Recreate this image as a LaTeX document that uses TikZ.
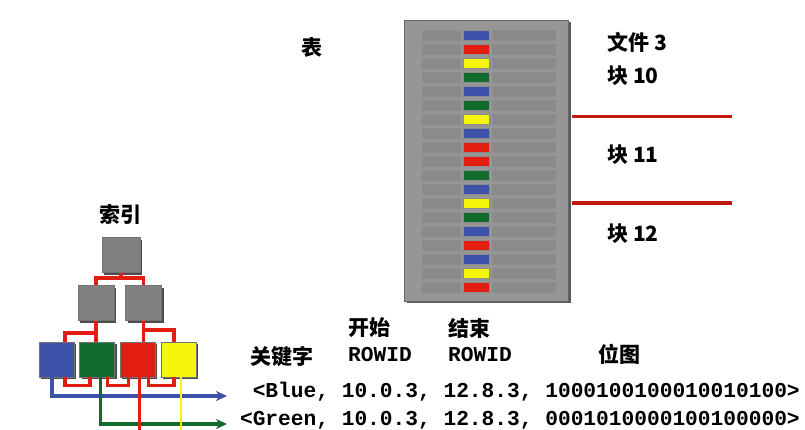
\documentclass[tikz,border=0pt]{standalone}
\usepackage{fontspec}
\usepackage{tikz}
\usetikzlibrary{positioning, arrows.meta, calc, shadows}
\newfontfamily\cjk{Noto Sans CJK SC}
\newfontfamily\mono{Liberation Mono}
\definecolor{bleuidx}{RGB}{62, 82, 170}
\definecolor{vertidx}{RGB}{18, 106, 44}
\definecolor{rougeidx}{RGB}{226, 30, 18}
\definecolor{jauneidx}{RGB}{246, 246, 10}
\definecolor{grisbloc}{RGB}{128, 128, 128}
\definecolor{grisfond}{RGB}{150, 150, 150}

\begin{document}
\begin{tikzpicture}[x=1pt, y=-1pt,
    >={Stealth[length=11pt, width=10pt]},
    bloc/.style={rectangle, draw=black!55, line width=0.6pt, fill=grisbloc,
                 minimum width=36pt, minimum height=35pt, inner sep=0pt,
                 general shadow={fill=black!70, shadow xshift=2pt, shadow yshift=-2pt}},
    feuille/.style={bloc, minimum width=35pt},
    barre/.style={rectangle, draw=black!45, line width=0.5pt, fill=grisfond!92!black,
                  minimum height=10pt, inner sep=0pt,
                  general shadow={fill=black!75, shadow xshift=1.4pt, shadow yshift=-1.4pt}},
    lien/.style={draw=rougeidx, line width=3.4pt},
    titre/.style={font=\cjk\bfseries\fontsize{21}{21}\selectfont, inner sep=0pt},
    ligne/.style={font=\mono\bfseries\fontsize{21.2}{21.2}\selectfont, inner sep=0pt}]
    \useasboundingbox (0,0) rectangle (805,429);
    \clip (0,0) rectangle (805,429);
    \fill[white] (0,0) rectangle (805,429);

    % la table et ses lignes
    \node[rectangle, fill=grisfond, draw=black!60, minimum width=164pt, minimum height=281pt,
          inner sep=0pt, general shadow={fill=black!65, shadow xshift=3pt, shadow yshift=-2pt}]
          (tableau) at (486,160.5) {};
    \foreach \c [count=\i] in {bleuidx, rougeidx, jauneidx, vertidx, bleuidx, vertidx, jauneidx,
                               bleuidx, rougeidx, rougeidx, vertidx, bleuidx, jauneidx, vertidx,
                               bleuidx, rougeidx, bleuidx, jauneidx, rougeidx}{
      \pgfmathsetmacro{\yr}{35+14*(\i-1)}
      \node[barre, minimum width=38pt] (g\i) at (441,\yr) {};
      \node[barre, fill=\c, minimum width=26pt] (c\i) at (476,\yr) {};
      \node[barre, minimum width=63pt] (d\i) at (523.5,\yr) {};
    }
    \draw[draw=rougeidx!85!black, line width=3.2pt] (572,116.5) -- (732,116.5);
    \draw[draw=rougeidx!85!black, line width=3.2pt] (572,203) -- (732,203);

    \node[titre] (table) at (312,48) {表};
    \node[titre, anchor=west] (fichier) at (607,42) {文件 3};
    \node[titre, anchor=west] (bloc10) at (607,76) {块 10};
    \node[titre, anchor=west] (bloc11) at (607,155) {块 11};
    \node[titre, anchor=west] (bloc12) at (607,234) {块 12};

    % l'index
    \node[titre] (index) at (120,215) {索引};
    \node[bloc, minimum width=38pt] (racine) at (121,255) {};
    \node[bloc] (noeudg) at (96,303) {};
    \node[bloc] (noeudd) at (143.5,303) {};
    \node[feuille, fill=bleuidx] (fbleu) at (56.5,359.5) {};
    \node[feuille, fill=vertidx, right=5pt of fbleu] (fvert) {};
    \node[feuille, fill=rougeidx, right=5pt of fvert] (frouge) {};
    \node[feuille, fill=jauneidx, right=5pt of frouge] (fjaune) {};

    \draw[lien] (racine.south) -- ++(0,5) coordinate (r1) -| (noeudg.north);
    \draw[lien] (r1) -| (noeudd.north);
    \draw[lien] (noeudg.south) -- (noeudg.south |- fvert.north);
    \draw[lien] (noeudg.south) ++(0,12) -| ([xshift=8.5pt]fbleu.north);
    \draw[lien] (noeudd.south) -- (noeudd.south |- frouge.north);
    \draw[lien] (noeudd.south) ++(0,9) -| ([xshift=-4.5pt]fjaune.north);
    \draw[lien] ([xshift=8.5pt]fbleu.south) -- ++(0,8) -| ([xshift=-7pt]fvert.south);
    \draw[lien] ([xshift=10.5pt]fvert.south) -- ++(0,8) -| ([xshift=-9.5pt]frouge.south);
    \draw[lien] ([xshift=11pt]frouge.south) -- ++(0,8) -| ([xshift=-4.5pt]fjaune.south);

    \coordinate (finbleu) at (227,396);
    \coordinate (finvert) at (227,424);
    \draw[->, draw=bleuidx, line width=3.2pt] ([xshift=-4.5pt]fbleu.south) |- (finbleu);
    \draw[->, draw=vertidx, line width=3.2pt] ([xshift=3.5pt]fvert.south) |- (finvert);
    \draw[draw=rougeidx, line width=3.2pt] ([xshift=1.5pt]frouge.south) -- ++(0,60);
    \draw[draw=jauneidx, line width=2.4pt] ([xshift=2.5pt]fjaune.south) -- ++(0,60);

    % les entrees bitmap
    \node[titre, anchor=west] (debut) at (348,328) {开始};
    \node[titre, anchor=west] (fin) at (448,328) {结束};
    \node[titre, anchor=west] (cle) at (250,357) {关键字};
    \node[ligne, anchor=west] (rowdebut) at (348,355) {ROWID};
    \node[ligne, anchor=west] (rowfin) at (448,355) {ROWID};
    \node[titre] (bitmap) at (619,354) {位图};
    \node[ligne, anchor=east] (entreebleu) at (800,392) {<Blue, 10.0.3, 12.8.3, 1000100100010010100>};
    \node[ligne, anchor=east] (entreevert) at (800,420) {<Green, 10.0.3, 12.8.3, 0001010000100100000>};
\end{tikzpicture}
\end{document}
